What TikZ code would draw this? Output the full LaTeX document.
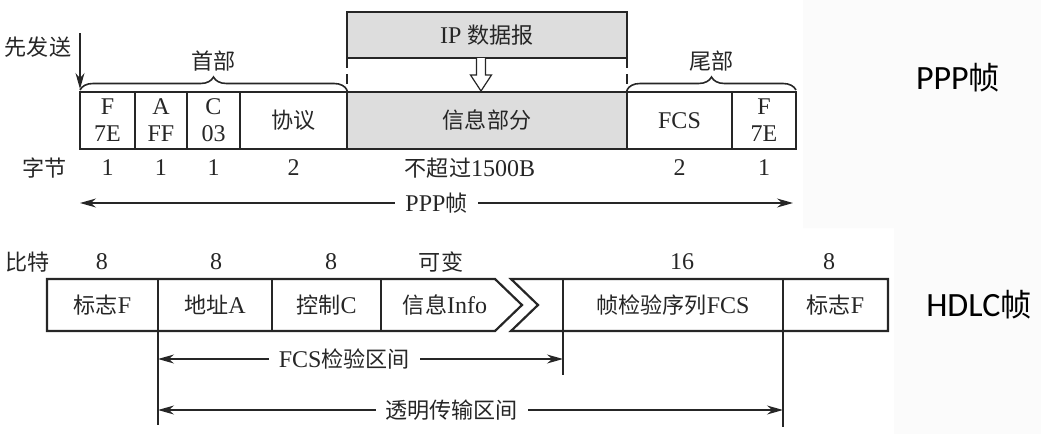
\documentclass[tikz,border=0pt]{standalone}
\usepackage{fontspec}
\setmainfont{Liberation Serif}
\newfontfamily\cjk[Scale=0.92]{Noto Sans CJK SC}
\newfontfamily\sidefont{Carlito}
\usetikzlibrary{arrows.meta,positioning,decorations.pathreplacing}
\definecolor{ink}{HTML}{262626}
\definecolor{shade}{HTML}{dddddd}
\tikzset{
  pppcell/.style={
    draw=ink, line width=0.6pt, outer sep=0pt, inner sep=0pt,
    minimum height=28.5pt, align=center, text=ink,
    font=\fontsize{12}{13.5}\selectfont},
  pppshade/.style={pppcell, fill=shade},
  rowlabel/.style={text=ink, inner sep=1pt, font=\fontsize{12}{14}\selectfont},
  bracelabel/.style={rowlabel},
  spanarrow/.style={
    {Stealth[length=8pt,width=4.5pt]}-{Stealth[length=8pt,width=4.5pt]},
    line width=0.6pt, color=ink},
  sendarrow/.style={-{Stealth[length=8pt,width=4.5pt]}, line width=0.6pt, color=ink},
  spanlabel/.style={rowlabel, fill=white, inner xsep=5pt},
  curly/.style={decorate, decoration={brace, amplitude=6.5pt}, line width=0.8pt, color=ink},
  hdlcframe/.style={draw=ink, line width=1.1pt, line join=miter},
  divider/.style={draw=ink, line width=0.6pt},
  sidelabel/.style={text=black, font=\sidefont\fontsize{17}{20}\selectfont},
}

\begin{document}
\begin{tikzpicture}[x=0.5pt, y=-0.5pt]
  \useasboundingbox (0,0) rectangle (1041,434);
  % faint tint of the screenshot on the right
  \fill[black!1.5] (803,0) -- (1041,0) -- (1041,434) -- (894,434) -- (894,228) -- (803,228) -- cycle;

  % PPP frame
  \node[pppcell, minimum width=27.5pt, anchor=west] (ppf) at (80,120.5) {F\\7E};
  \node[pppcell, minimum width=26pt, right=0pt of ppf]        (ppa)     {A\\FF};
  \node[pppcell, minimum width=26.5pt, right=0pt of ppa]      (ppc)     {C\\03};
  \node[pppcell, minimum width=53.5pt, right=0pt of ppc]      (ppproto) {\cjk 协议};
  \node[pppshade, minimum width=140pt, right=0pt of ppproto]  (ppinfo)  {\cjk 信息部分};
  \node[pppcell, minimum width=52.5pt, right=0pt of ppinfo]   (ppfcs)   {FCS};
  \node[pppcell, minimum width=32pt, right=0pt of ppfcs]      (ppflag)  {F\\7E};
  \draw[ink, line width=0.9pt] (ppf.north west) rectangle (ppflag.south east);

  \node[pppshade, minimum width=140pt, minimum height=23pt, line width=0.8pt, above=17pt of ppinfo] (ip) {IP {\cjk 数据报}};
  \draw[ink, line width=0.6pt, dash pattern=on 5pt off 3pt] (ip.south west) -- (ppinfo.north west);
  \draw[ink, line width=0.6pt, dash pattern=on 5pt off 3pt] (ip.south east) -- (ppinfo.north east);
  \coordinate (drop) at ([xshift=-3pt]ip.south);
  \draw[ink, line width=0.6pt, fill=white] (drop) ++(-4.5,0) -- ++(0,17) -- ++(-6,0)
    -- ++(10.5,16) -- ++(10.5,-16) -- ++(-6,0) -- ++(0,-17);

  \draw[curly] ([yshift=1pt]ppf.north west) -- ([yshift=1pt]ppproto.north east)
    node[bracelabel, midway, yshift=14.5pt] (headlbl) {\cjk 首部};
  \draw[curly] ([yshift=1pt]ppfcs.north west) -- ([yshift=1pt]ppflag.north east)
    node[bracelabel, midway, yshift=14.5pt] (taillbl) {\cjk 尾部};

  \node[rowlabel] (sendlbl) at (38,47) {\cjk 先发送};
  \coordinate (sendtop) at (80,33);
  \draw[sendarrow] (sendtop) -- ([yshift=1.5pt]ppf.north west);

  \node[rowlabel] (bytelbl) at (45,168) {\cjk 字节};
  \node[rowlabel] (nf)     at (ppf |- bytelbl)     {1};
  \node[rowlabel] (na)     at (ppa |- bytelbl)     {1};
  \node[rowlabel] (nc)     at (ppc |- bytelbl)     {1};
  \node[rowlabel] (nproto) at (ppproto |- bytelbl) {2};
  \node[rowlabel, xshift=-8.5pt] (ninfo) at (ppinfo |- bytelbl) {{\cjk 不超过}1500B};
  \node[rowlabel] (nfcs)   at (ppfcs |- bytelbl)   {2};
  \node[rowlabel] (nflag)  at (ppflag |- bytelbl)  {1};

  \coordinate (pppL) at (80,203);
  \coordinate (pppR) at (793,203);
  \draw[spanarrow] (pppL) -- (pppR) node[spanlabel, midway] (ppplbl) {PPP{\cjk 帧}};

  \node[sidelabel] (ppptitle) at (958,78) {PPP{\cjk 帧}};

  % HDLC frame
  \draw[hdlcframe, fill=white] (47,279) -- (495,279) -- (522,305) -- (495,331) -- (47,331) -- cycle;
  \draw[hdlcframe, fill=white] (511,279) -- (888,279) -- (888,331) -- (511,331) -- (538,305) -- cycle;
  \draw[divider] (272,279) -- (272,331);
  \draw[divider] (381,279) -- (381,331);
  \draw[divider] (158,279) -- (158,425);
  \draw[divider] (563,279) -- (563,375);
  \draw[divider] (783,279) -- (783,427);

  \node[rowlabel] (hflag1) at (102.5,305) {{\cjk 标志}F};
  \node[rowlabel] (haddr)  at (215,305)   {{\cjk 地址}A};
  \node[rowlabel] (hctrl)  at (326.5,305) {{\cjk 控制}C};
  \node[rowlabel] (hinfo)  at (445,305)   {{\cjk 信息}Info};
  \node[rowlabel] (hfcs)   at (673,305)   {{\cjk 帧检验序列}FCS};
  \node[rowlabel] (hflag2) at (835.5,305) {{\cjk 标志}F};

  \node[rowlabel] (bitlbl) at (28,262) {\cjk 比特};
  \node[rowlabel] (b1) at (102,262) {8};
  \node[rowlabel] (b2) at (216,262) {8};
  \node[rowlabel] (b3) at (331,262) {8};
  \node[rowlabel] (b4) at (441,262) {\cjk 可变};
  \node[rowlabel] (b5) at (682,262) {16};
  \node[rowlabel] (b6) at (829,262) {8};

  \coordinate (fcsL) at (158,359);
  \coordinate (fcsR) at (563,359);
  \draw[spanarrow] (fcsL) -- (fcsR) node[spanlabel, pos=0.46] (fcslbl) {FCS{\cjk 检验区间}};
  \coordinate (transL) at (158,410);
  \coordinate (transR) at (783,410);
  \draw[spanarrow] (transL) -- (transR) node[spanlabel, pos=0.47] (translbl) {\cjk 透明传输区间};

  \node[sidelabel] (hdlctitle) at (979,305) {HDLC{\cjk 帧}};
\end{tikzpicture}
\end{document}
